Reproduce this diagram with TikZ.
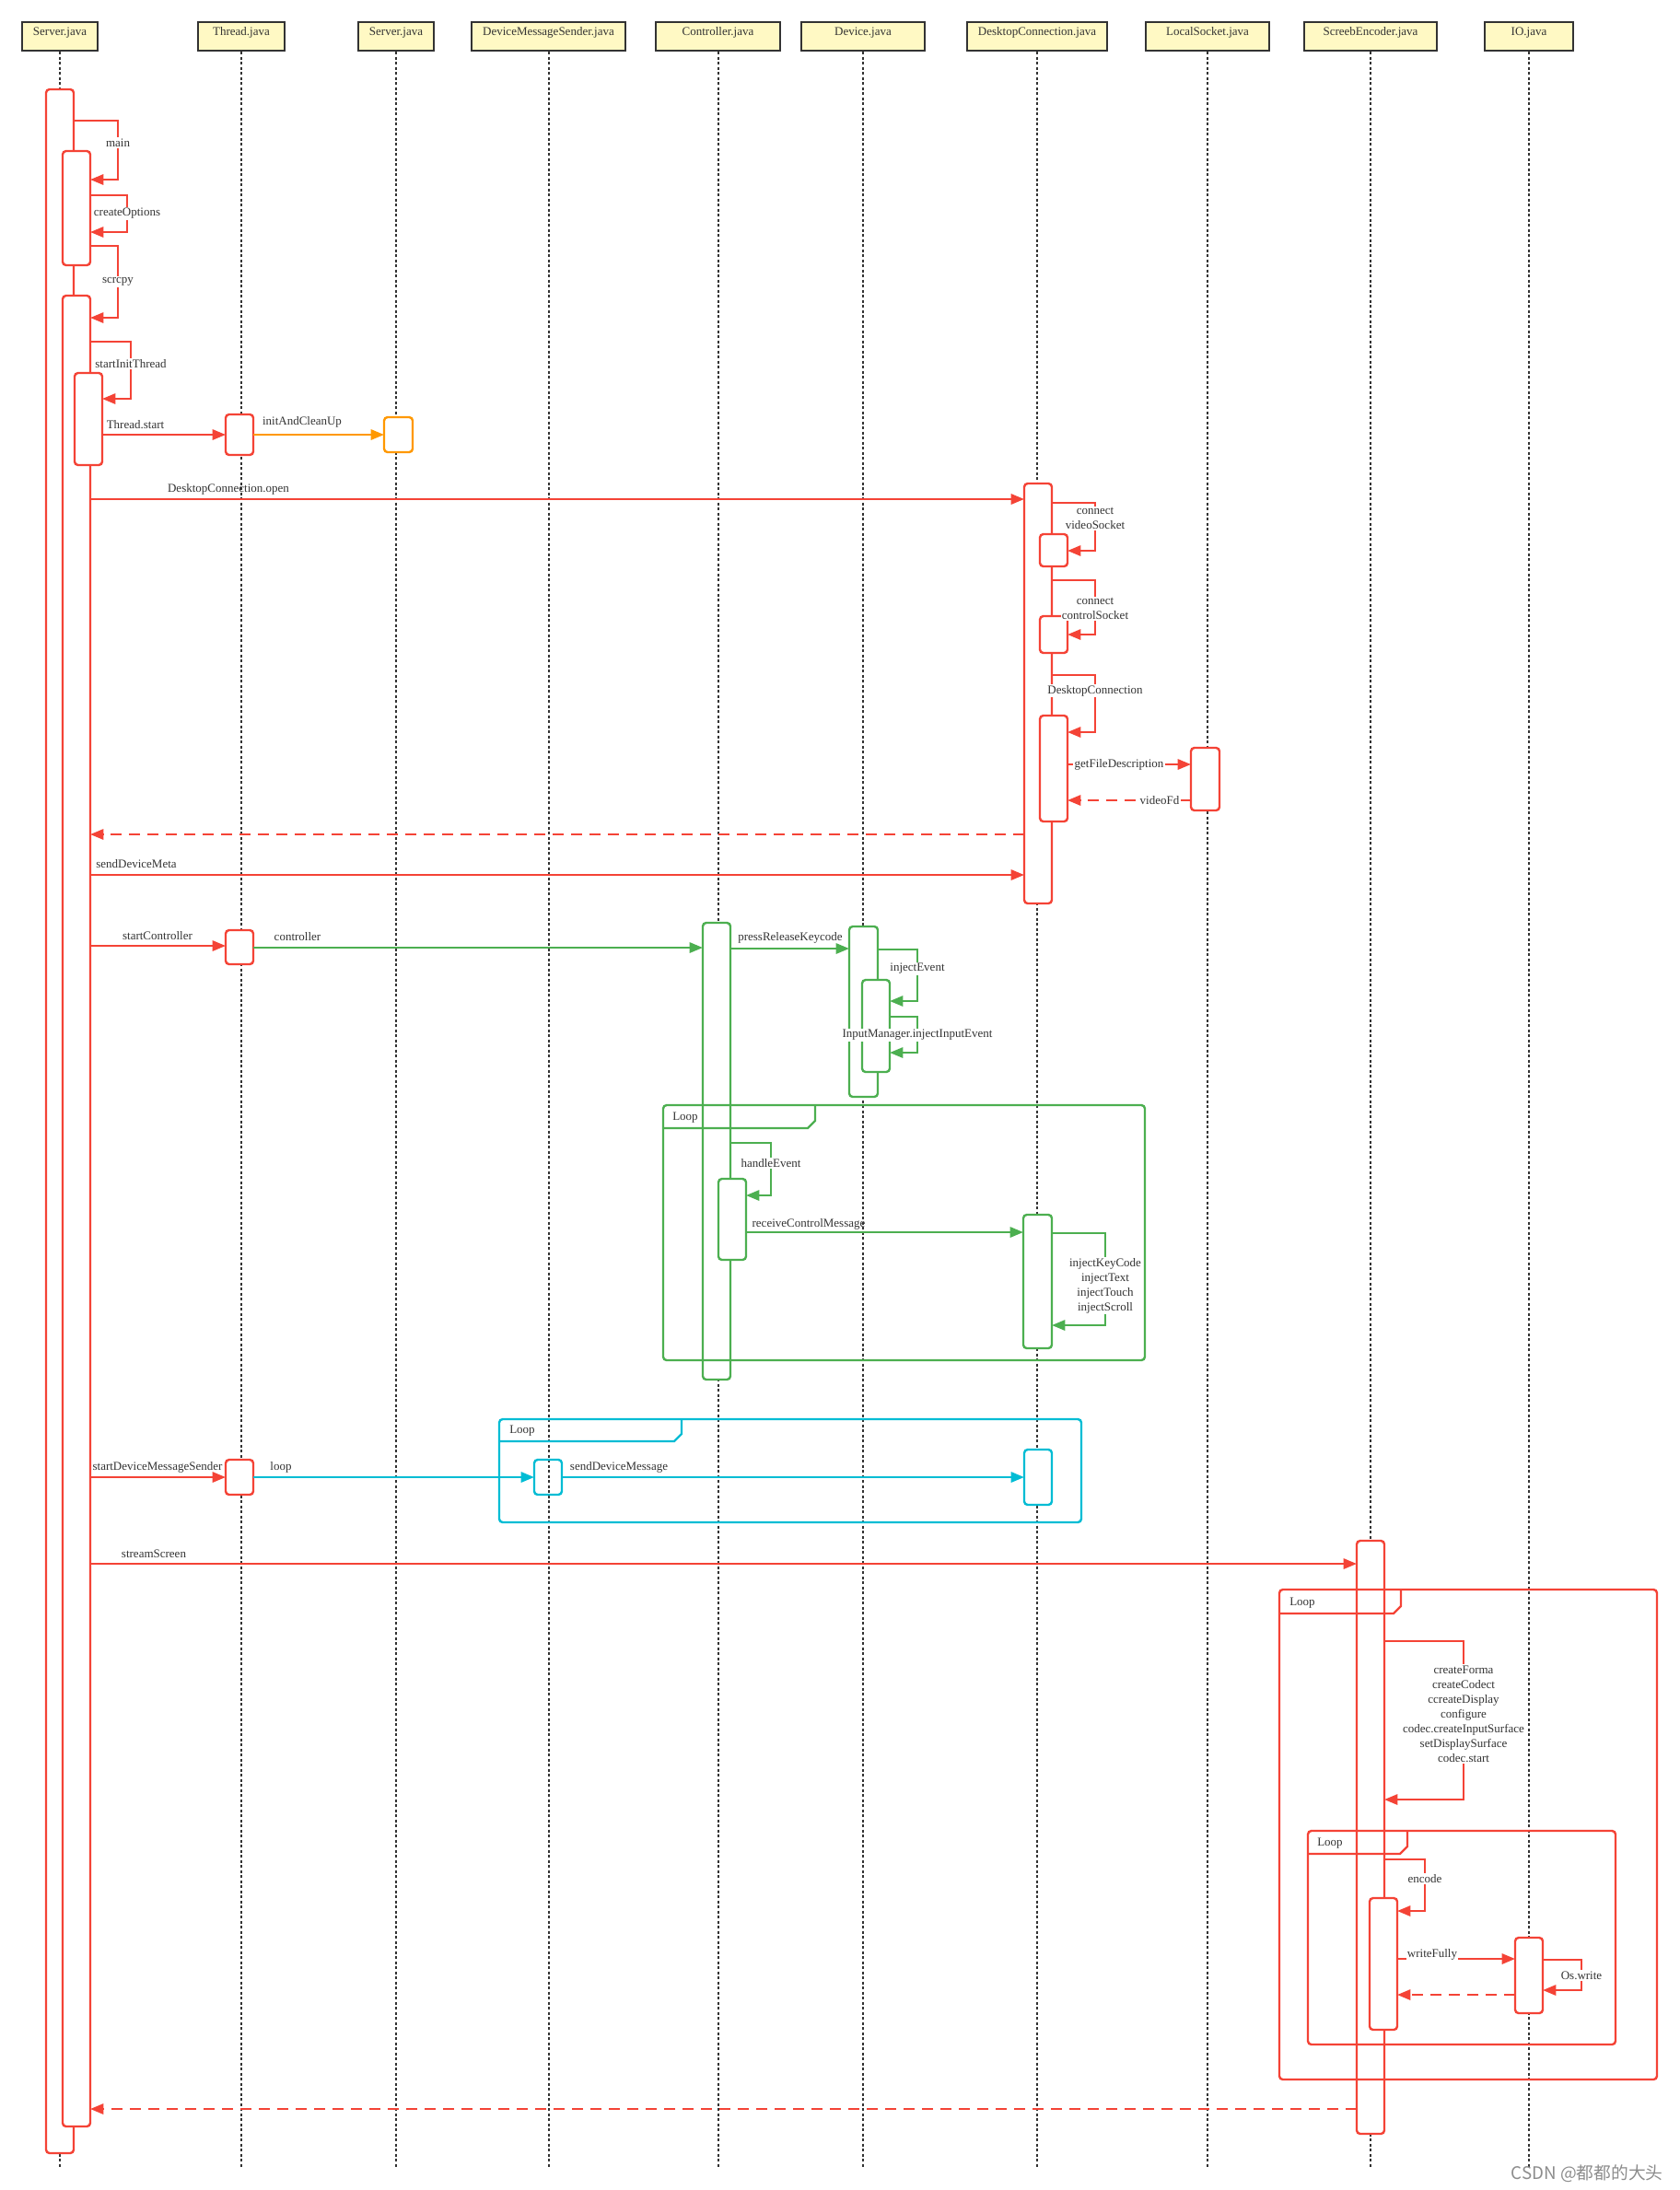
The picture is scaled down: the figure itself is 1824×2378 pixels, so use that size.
\documentclass[tikz,border=0pt]{standalone}
\usepackage{fontspec}
\setmainfont{Liberation Serif}
\newfontfamily\cjkfont{Noto Sans CJK SC}
\usetikzlibrary{arrows.meta,fit}

\definecolor{seqred}{HTML}{F44336}
\definecolor{seqgreen}{HTML}{4CAF50}
\definecolor{seqorange}{HTML}{FF9800}
\definecolor{seqcyan}{HTML}{00BCD4}
\definecolor{headfill}{HTML}{FFF9C4}
\definecolor{inkgray}{HTML}{333333}

\begin{document}
\begin{tikzpicture}[x=0.8pt, y=-0.8pt,
    font=\fontsize{10.4}{12.8}\selectfont,
    head/.style={draw=inkgray, fill=headfill, line width=1.8pt, inner sep=0pt, text=inkgray},
    life/.style={draw=inkgray, line width=1.6pt, dash pattern=on 2.4pt off 2pt},
    act/.style={draw=#1, fill=white, line width=1.9pt, rounded corners=3pt, inner sep=0pt, outer sep=0pt},
    call/.style={draw=#1, line width=1.9pt, -{Triangle[length=11.5pt,width=9pt]}},
    ret/.style={call=#1, dash pattern=on 10pt off 6pt},
    lbl/.style={text=inkgray, inner sep=1pt, fill=white, align=center},
    lbltop/.style={text=inkgray, inner sep=0pt},
    loopbox/.style={draw=#1, line width=1.9pt, rounded corners=3pt},
  ]
        \useasboundingbox (0,0) rectangle (1824,2378);

        % participants
        \node[head, fit={(24,24) (106,55)}] (hServer) {Server.java};
        \node[head, fit={(215,24) (309,55)}] (hThread) {Thread.java};
        \node[head, fit={(389,24) (471,55)}] (hServerB) {Server.java};
        \node[head, fit={(512,24) (679,55)}] (hSender) {DeviceMessageSender.java};
        \node[head, fit={(712,24) (847,55)}] (hController) {Controller.java};
        \node[head, fit={(870,24) (1004,55)}] (hDevice) {Device.java};
        \node[head, fit={(1050,24) (1202,55)}] (hDesktop) {DesktopConnection.java};
        \node[head, fit={(1244,24) (1378,55)}] (hSocket) {LocalSocket.java};
        \node[head, fit={(1416,24) (1560,55)}] (hEncoder) {ScreebEncoder.java};
        \node[head, fit={(1612,24) (1708,55)}] (hIO) {IO.java};

        \foreach \h in {hServer,hThread,hServerB,hSender,hController,hDevice,hDesktop,hSocket,hEncoder,hIO}
          \draw[life] (\h.south) -- (\h.south |- 0,2353);

        % activations
        \node[act=seqred, fit={(50,97) (80,2338)}] (a0) {};
        \node[act=seqred, fit={(68,164) (98,288)}] (a1) {};
        \node[act=seqred, fit={(68,321) (98,2309)}] (a2) {};
        \node[act=seqred, fit={(81,405) (111,505)}] (a3) {};

        \node[act=seqred, fit={(245,450) (275,494)}] (t1) {};
        \node[act=seqred, fit={(245,1010) (275,1047)}] (t2) {};
        \node[act=seqred, fit={(245,1585) (275,1623)}] (t3) {};

        \node[act=seqorange, fit={(417,453) (448,491)}] (s1) {};

        \node[act=seqred, fit={(1112,525) (1142,981)}] (d1) {};
        \node[act=seqred, fit={(1129,580) (1159,615)}] (d2) {};
        \node[act=seqred, fit={(1129,669) (1159,709)}] (d3) {};
        \node[act=seqred, fit={(1129,777) (1159,892)}] (d4) {};
        \node[act=seqgreen, fit={(1111,1319) (1142,1464)}] (d5) {};
        \node[act=seqcyan, fit={(1112,1574) (1142,1634)}] (d6) {};

        \node[act=seqred, fit={(1293,812) (1324,880)}] (l1) {};

        \node[act=seqgreen, fit={(763,1002) (793,1498)}] (c1) {};
        \node[act=seqgreen, fit={(780,1280) (810,1368)}] (c2) {};

        \node[act=seqgreen, fit={(922,1006) (953,1191)}] (v1) {};
        \node[act=seqgreen, fit={(936,1064) (966,1164)}] (v2) {};

        \node[act=seqcyan, fill=none, fit={(580,1585) (610,1623)}] (m1) {};

        \node[act=seqred, fit={(1473,1673) (1503,2317)}] (e1) {};
        \node[act=seqred, fit={(1487,2061) (1517,2204)}] (e2) {};

        \node[act=seqred, fit={(1645,2104) (1675,2186)}] (i1) {};

        % startup
        \draw[call=seqred] (a0.east |- 0,131) -- (128,131) -- (128,195) -- (a1.east |- 0,195);
        \draw[call=seqred] (a1.east |- 0,212) -- (138,212) -- (138,252) -- (a1.east |- 0,252);
        \draw[call=seqred] (a1.east |- 0,267) -- (128,267) -- (128,345) -- (a2.east |- 0,345);
        \draw[call=seqred] (a2.east |- 0,371) -- (142,371) -- (142,433) -- (a3.east |- 0,433);
        \draw[call=seqred] (a3.east |- 0,472) -- (t1.west |- 0,472);
        \draw[call=seqorange] (t1.east |- 0,472) -- (s1.west |- 0,472);

        % desktop connection
        \draw[call=seqred] (a2.east |- 0,542) -- (d1.west |- 0,542);
        \draw[call=seqred] (d1.east |- 0,546) -- (1189,546) -- (1189,598) -- (d2.east |- 0,598);
        \draw[call=seqred] (d1.east |- 0,630) -- (1189,630) -- (1189,689) -- (d3.east |- 0,689);
        \draw[call=seqred] (d1.east |- 0,733) -- (1189,733) -- (1189,795) -- (d4.east |- 0,795);
        \draw[call=seqred] (d4.east |- 0,830) -- (l1.west |- 0,830);
        \draw[ret=seqred] (l1.west |- 0,869) -- (d4.east |- 0,869);
        \draw[ret=seqred] (d1.west |- 0,906) -- (a2.east |- 0,906);
        \draw[call=seqred] (a2.east |- 0,950) -- (d1.west |- 0,950);

        % controller
        \draw[call=seqred] (a2.east |- 0,1027) -- (t2.west |- 0,1027);
        \draw[call=seqgreen] (t2.east |- 0,1029) -- (c1.west |- 0,1029);
        \draw[call=seqgreen] (c1.east |- 0,1030) -- (v1.west |- 0,1030);
        \draw[call=seqgreen] (v1.east |- 0,1031) -- (996,1031) -- (996,1087) -- (v2.east |- 0,1087);
        \draw[call=seqgreen] (v2.east |- 0,1104) -- (996,1104) -- (996,1143) -- (v2.east |- 0,1143);
        \draw[call=seqgreen] (c1.east |- 0,1241) -- (837,1241) -- (837,1298) -- (c2.east |- 0,1298);
        \draw[call=seqgreen] (c2.east |- 0,1338) -- (d5.west |- 0,1338);
        \draw[call=seqgreen] (d5.east |- 0,1339) -- (1200,1339) -- (1200,1439) -- (d5.east |- 0,1439);

        % device message sender
        \draw[call=seqred] (a2.east |- 0,1604) -- (t3.west |- 0,1604);
        \draw[call=seqcyan] (t3.east |- 0,1604) -- (m1.west |- 0,1604);
        \draw[call=seqcyan] (m1.east |- 0,1604) -- (d6.west |- 0,1604);

        % screen encoder
        \draw[call=seqred] (a2.east |- 0,1698) -- (e1.west |- 0,1698);
        \draw[call=seqred] (e1.east |- 0,1782) -- (1589,1782) -- (1589,1954) -- (e1.east |- 0,1954);
        \draw[call=seqred] (e1.east |- 0,2019) -- (1547,2019) -- (1547,2075) -- (e2.east |- 0,2075);
        \draw[call=seqred] (e2.east |- 0,2127) -- (i1.west |- 0,2127);
        \draw[call=seqred] (i1.east |- 0,2128) -- (1717,2128) -- (1717,2161) -- (i1.east |- 0,2161);
        \draw[ret=seqred] (i1.west |- 0,2166) -- (e2.east |- 0,2166);
        \draw[ret=seqred] (e1.west |- 0,2290) -- (a2.east |- 0,2290);

        % labels
        \node[lbl] (lMain) at (128,155) {main};
        \node[lbl] (lOptions) at (138,232) {createOptions};
        \node[lbl] (lScrcpy) at (128,306) {scrcpy};
        \node[lbl] (lInit) at (142,395) {startInitThread};
        \node[lbltop] (lStart) at (147,461) {Thread.start};
        \node[lbltop] (lClean) at (328,458) {initAndCleanUp};
        \node[lbltop] (lOpen) at (248,531) {DesktopConnection.open};
        \node[lbl] (lVideo) at (1189,563) {connect\\videoSocket};
        \node[lbl] (lControl) at (1189,661) {connect\\controlSocket};
        \node[lbl] (lDesktop) at (1189,750) {DesktopConnection};
        \node[lbl] (lFile) at (1215,830) {getFileDescription};
        \node[lbl] (lFd) at (1259,869) {videoFd};
        \node[lbltop] (lMeta) at (148,938) {sendDeviceMeta};
        \node[lbltop] (lStartCtrl) at (171,1016) {startController};
        \node[lbltop] (lCtrl) at (323,1017) {controller};
        \node[lbltop] (lPress) at (858,1018) {pressReleaseKeycode};
        \node[lbl] (lInject) at (996,1052) {injectEvent};
        \node[lbl] (lInput) at (996,1124) {InputManager.injectInputEvent};
        \node[lbl] (lHandle) at (837,1263) {handleEvent};
        \node[lbltop] (lReceive) at (878,1329) {receiveControlMessage};
        \node[lbl] (lKinds) at (1200,1396) {injectKeyCode\\injectText\\injectTouch\\injectScroll};
        \node[lbltop] (lSenderStart) at (171,1593) {startDeviceMessageSender};
        \node[lbltop] (lLoop) at (305,1593) {loop};
        \node[lbltop] (lSend) at (672,1593) {sendDeviceMessage};
        \node[lbltop] (lStream) at (167,1687) {streamScreen};
        \node[lbl] (lSetup) at (1589,1861) {createForma\\createCodect\\ccreateDisplay\\configure\\codec.createInputSurface\\setDisplaySurface\\codec.start};
        \node[lbl] (lEncode) at (1547,2040) {encode};
        \node[lbl] (lWrite) at (1555,2122) {writeFully};
        \node[lbl] (lOs) at (1717,2145) {Os.write};

        % loop frames
        \draw[loopbox=seqgreen] (720,1200) rectangle (1243,1477);
        \draw[seqgreen, line width=1.9pt] (720,1225) -- (877,1225) -- (885,1217) -- (885,1200);
        \node[lbltop, anchor=west] (fCtrl) at (730,1214) {Loop};

        \draw[loopbox=seqcyan] (542,1541) rectangle (1174,1653);
        \draw[seqcyan, line width=1.9pt] (542,1565) -- (732,1565) -- (740,1557) -- (740,1541);
        \node[lbltop, anchor=west] (fSend) at (553,1554) {Loop};

        \draw[loopbox=seqred] (1389,1726) rectangle (1799,2258);
        \draw[seqred, line width=1.9pt] (1389,1752) -- (1513,1752) -- (1521,1744) -- (1521,1726);
        \node[lbltop, anchor=west] (fStream) at (1400,1741) {Loop};

        \draw[loopbox=seqred] (1420,1988) rectangle (1754,2220);
        \draw[seqred, line width=1.9pt] (1420,2013) -- (1520,2013) -- (1528,2005) -- (1528,1988);
        \node[lbltop, anchor=west] (fEncode) at (1430,2002) {Loop};

        \node[text=black!45, anchor=east, font=\cjkfont\fontsize{15}{15}\selectfont] (mark) at (1810,2360) {CSDN @都都的大头};
      \end{tikzpicture}
\end{document}
